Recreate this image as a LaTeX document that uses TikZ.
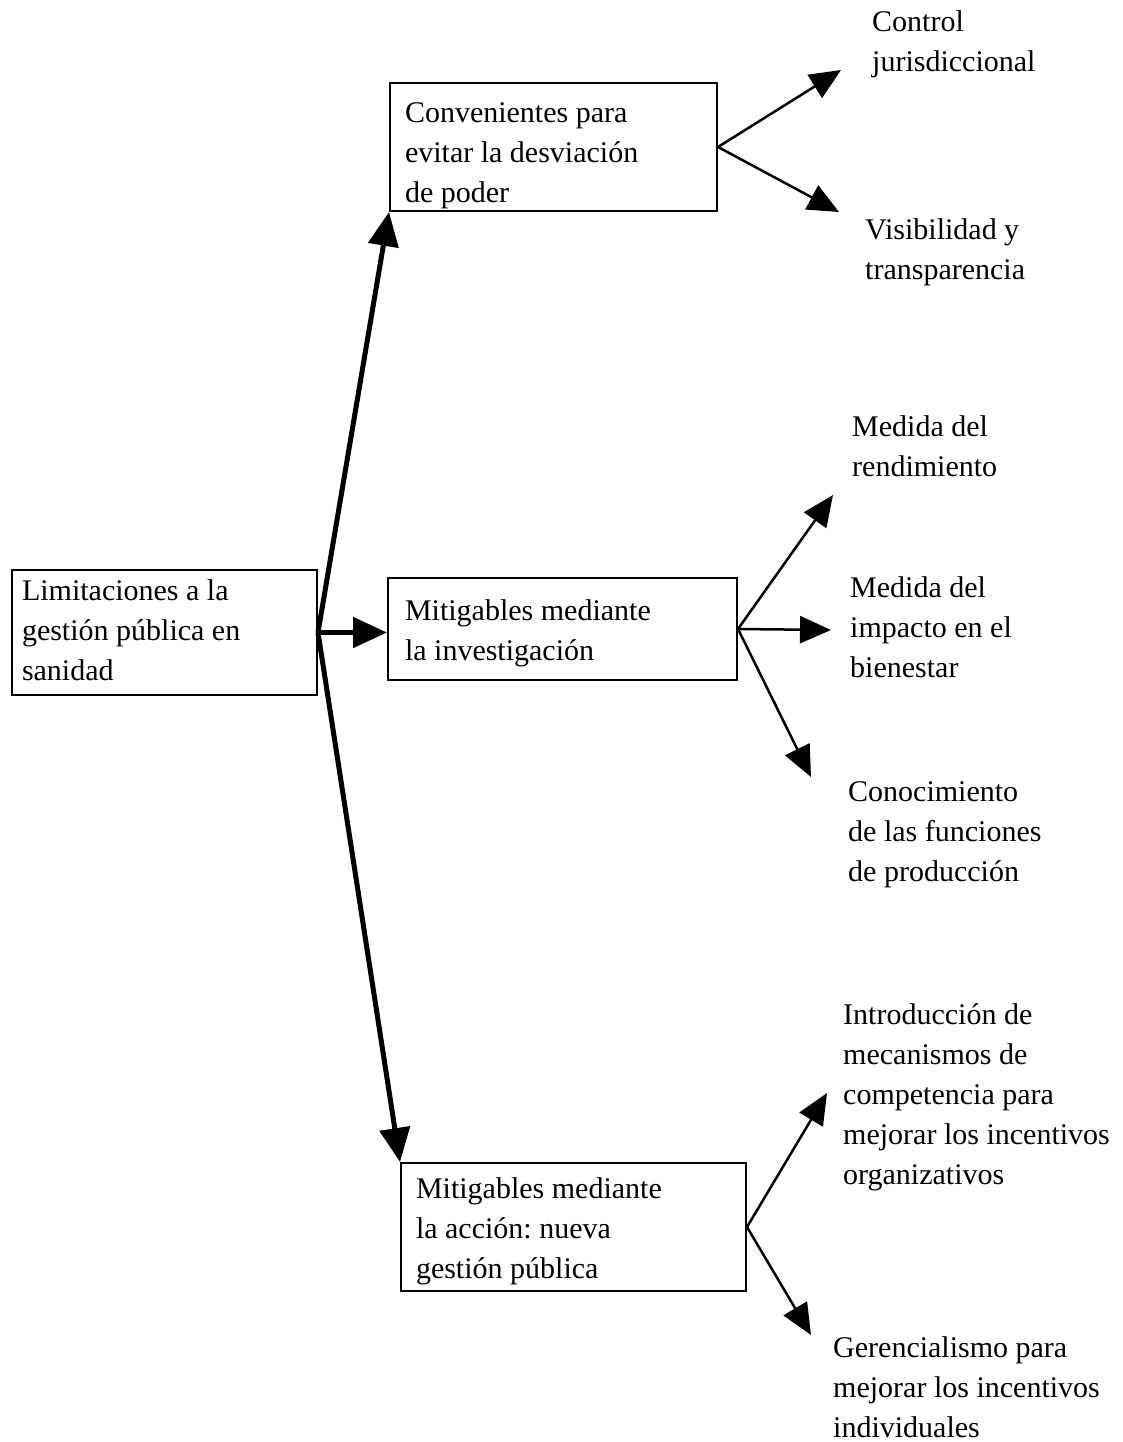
\documentclass[tikz,border=0pt]{standalone}
\usepackage{fontspec}
\setmainfont{Liberation Serif}
\usetikzlibrary{arrows.meta}
\newcommand{\diagfont}{\fontsize{30}{40}\selectfont\frenchspacing}
\newcommand{\fixspaces}{\spaceskip=\fontdimen2\font\xspaceskip=\fontdimen2\font\relax}
\begin{document}
\begin{tikzpicture}[x=1pt,y=-1pt,
  txt/.style={font=\diagfont, align=left, execute at begin node=\fixspaces},
  boxnode/.style={txt, draw, line width=2pt, rectangle, inner ysep=0pt},
  label/.style={txt, anchor=west, inner sep=0pt},
  thick arrow/.style={line width=5pt, -{Triangle[length=34pt,width=30pt]}},
  thin arrow/.style={line width=2.5pt, -{Triangle[length=31pt,width=27pt]}}
]
\useasboundingbox (0,0) rectangle (1123,1442);

% boxes
\node[boxnode, minimum width=305pt, minimum height=125pt, inner xsep=10pt, text width=285pt] (root) at (164.5,632.5)
  {\strut Limitaciones a la\\\strut gestión pública en\\\strut sanidad};
\node[boxnode, minimum width=327pt, minimum height=128pt, inner xsep=15pt, text width=297pt] (b1) at (553.5,147)
  {\rule{0pt}{40pt}Convenientes para\\\strut evitar la desviación\\\rule[-8pt]{0pt}{8pt}de poder};
\node[boxnode, minimum width=349pt, minimum height=102pt, inner xsep=17pt, text width=315pt] (b2) at (562.5,629)
  {\rule{0pt}{34pt}Mitigables mediante\\\strut la investigación};
\node[boxnode, minimum width=345pt, minimum height=128pt, inner xsep=15pt, text width=315pt] (b3) at (573.5,1227)
  {\rule{0pt}{34pt}Mitigables mediante\\\strut la acción: nueva\\\strut gestión pública};

% labels
\node[label] (t11) at (872,43.5) {\strut Control\\\strut jurisdiccional};
\node[label] (t12) at (865,251) {\strut Visibilidad y\\\strut transparencia};
\node[label] (t21) at (852,448.5) {\strut Medida del\\\strut rendimiento};
\node[label] (t22) at (850,629) {\strut Medida del\\\strut impacto en el\\\strut bienestar};
\node[label] (t23) at (848,833) {\strut Conocimiento\\\strut de las funciones\\\strut de producción};
\node[label] (t31) at (843,1096) {\strut Introducción de\\\strut mecanismos de\\\strut competencia para\\\strut mejorar los incentivos\\\strut organizativos};
\node[label] (t32) at (833,1389) {\strut Gerencialismo para\\\strut mejorar los incentivos\\\strut individuales};

% arrow tips
\coordinate (p11) at (841,70);
\coordinate (p12) at (839,212);
\coordinate (p21) at (833,495);
\coordinate (p22) at (831,630);
\coordinate (p23) at (811,777);
\coordinate (p31) at (827,1093);
\coordinate (p32) at (811,1335);

% thick connectors
\draw[thick arrow] (root.east) -- (b1.south west);
\draw[thick arrow] (root.east) -- (root.east -| b2.west);
\draw[thick arrow] (root.east) -- (b3.north west);

% thin connectors
\draw[thin arrow] (b1.east) -- (p11);
\draw[thin arrow] (b1.east) -- (p12);
\draw[thin arrow] (b2.east) -- (p21);
\draw[thin arrow] (b2.east) -- (p22);
\draw[thin arrow] (b2.east) -- (p23);
\draw[thin arrow] (b3.east) -- (p31);
\draw[thin arrow] (b3.east) -- (p32);
\end{tikzpicture}
\end{document}
